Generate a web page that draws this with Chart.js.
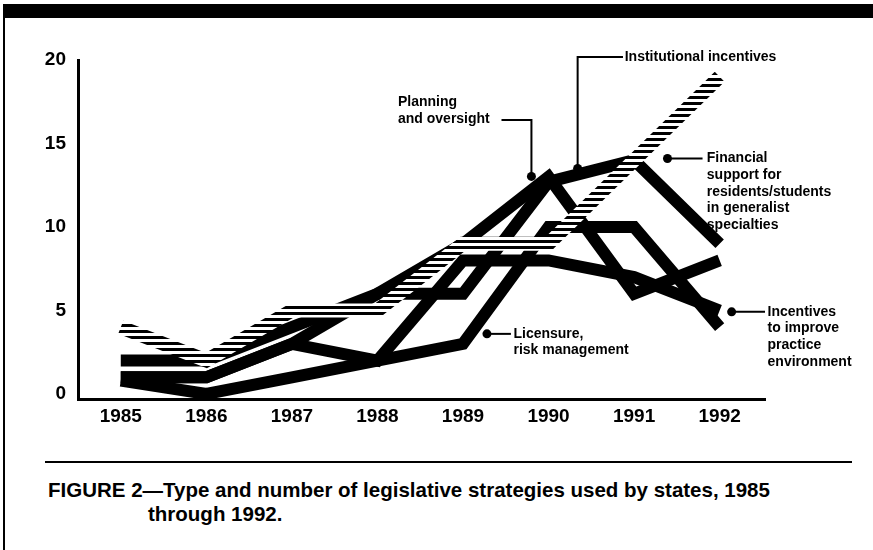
<!DOCTYPE html>
<html>
<head>
<meta charset="utf-8">
<script src="https://cdn.jsdelivr.net/npm/chart.js@4.4.0/dist/chart.umd.min.js"></script>
<style>
  html, body { margin: 0; padding: 0; background: #fff; }
  body { width: 873px; height: 550px; position: relative; overflow: hidden;
         font-family: "Liberation Sans", Arial, Helvetica, sans-serif; }
  #topbar { position: absolute; left: 3px; top: 4px; width: 870px; height: 14px; background: #000; }
  #leftline { position: absolute; left: 3px; top: 4px; width: 2px; height: 546px; background: #000; }
  #rule { position: absolute; left: 45px; top: 461px; width: 807px; height: 2px; background: #000; }
  #caption { position: absolute; left: 48px; top: 478px; font-weight: bold; font-size: 20.5px;
             line-height: 24px; color: #000; padding-left: 100px; text-indent: -100px; white-space: nowrap; }
  #wrap { position: absolute; left: 0; top: 0; width: 873px; height: 440px; }
</style>
</head>
<body>
<div id="topbar"></div>
<div id="leftline"></div>
<div id="wrap"><canvas id="c" width="873" height="440"></canvas></div>
<div id="rule"></div>
<div id="caption">FIGURE 2—Type and number of legislative strategies used by states, 1985<br>through 1992.</div>
<script>
// ---- data ----
const years = [1985, 1986, 1987, 1988, 1989, 1990, 1991, 1992];
const financialSupport        = [4, 2, 5, 5, 9, 9, 14, 19];
const planningOversight       = [2, 2, 4, 6, 9, 13, 6, 8];
const institutionalIncentives = [1, 1, 3, 6, 6, 12.7, 14, 9];
const licensureRisk           = [0.8, 0, 1, 2, 3, 10, 10, 4];
const practiceEnvironment     = [1, 1, 3, 2, 8, 8, 7, 5];
const yTicks = [0, 5, 10, 15, 20];

// annotation labels: anchor dot (data coords), leader path, text lines
const labels = [
  { lines: ["Institutional incentives"], dot: [1990.34, 13.5],
    path: [[1990.34, 13.5], [1990.34, 20.18], [1990.87, 20.18]], text: [1990.89, 20.18] },
  { lines: ["Planning", "and oversight"], dot: [1989.80, 13.03],
    path: [[1989.80, 13.03], [1989.80, 16.4], [1989.45, 16.4]], text: [1988.24, 17.45] },
  { lines: ["Financial", "support for", "residents/students", "in generalist", "specialties"], dot: [1991.39, 14.1],
    path: [[1991.39, 14.1], [1991.80, 14.1]], text: [1991.85, 14.1] },
  { lines: ["Licensure,", "risk management"], dot: [1989.28, 3.6],
    path: [[1989.28, 3.6], [1989.56, 3.6]], text: [1989.59, 3.6] },
  { lines: ["Incentives", "to improve", "practice", "environment"], dot: [1992.14, 4.92],
    path: [[1992.14, 4.92], [1992.53, 4.92]], text: [1992.56, 4.92] }
];

function pts(arr) { return years.map((yr, i) => ({ x: yr, y: arr[i] })); }

// hatched pattern (horizontal stripes)
const pc = document.createElement('canvas');
pc.width = 8; pc.height = 6;
const pctx = pc.getContext('2d');
pctx.fillStyle = '#fff'; pctx.fillRect(0, 0, 8, 6);
pctx.fillStyle = '#000'; pctx.fillRect(0, 0, 8, 3);
const ctx0 = document.getElementById('c').getContext('2d');
const hatch = ctx0.createPattern(pc, 'repeat');

const FONT = '"Liberation Sans", Arial, Helvetica, sans-serif';

const base = { pointRadius: 0, tension: 0, borderJoinStyle: 'miter', borderCapStyle: 'butt',
               fill: false, borderColor: '#000', borderWidth: 12, clip: false };

const annotationPlugin = {
  id: 'annot',
  afterDraw(chart) {
    const ctx = chart.ctx, xs = chart.scales.x, ys = chart.scales.y;
    const P = (p) => [xs.getPixelForValue(p[0]), ys.getPixelForValue(p[1])];
    ctx.save();
    ctx.strokeStyle = '#000'; ctx.fillStyle = '#000'; ctx.lineWidth = 2;
    ctx.font = 'bold 14px ' + FONT;
    ctx.textBaseline = 'middle';
    ctx.textAlign = 'left';
    for (const l of labels) {
      ctx.beginPath();
      l.path.forEach((p, i) => { const q = P(p); if (i === 0) ctx.moveTo(q[0], q[1]); else ctx.lineTo(q[0], q[1]); });
      ctx.stroke();
      const d = P(l.dot);
      ctx.beginPath(); ctx.arc(d[0], d[1], 4.5, 0, Math.PI * 2); ctx.fill();
      const t = P(l.text);
      l.lines.forEach((s, i) => ctx.fillText(s, t[0], t[1] + i * 16.7));
    }
    ctx.restore();
  }
};

new Chart(ctx0, {
  type: 'line',
  data: {
    datasets: [
      Object.assign({}, base, { label: 'Financial support', data: pts(financialSupport), borderColor: hatch, borderWidth: 14 }),
      Object.assign({}, base, { label: 'Planning and oversight', data: pts(planningOversight) }),
      Object.assign({}, base, { label: 'Institutional incentives', data: pts(institutionalIncentives) }),
      Object.assign({}, base, { label: 'Licensure, risk management', data: pts(licensureRisk) }),
      Object.assign({}, base, { label: 'Incentives to improve practice environment', data: pts(practiceEnvironment) })
    ]
  },
  options: {
    responsive: false,
    animation: false,
    layout: { padding: { left: 0, top: 60, right: 108, bottom: 0 } },
    plugins: { legend: { display: false }, tooltip: { enabled: false } },
    scales: {
      x: {
        type: 'linear', min: 1984.5, max: 1992.53,
        afterBuildTicks: (s) => { s.ticks = years.map(v => ({ value: v })); },
        afterFit: (s) => { s.height = 41; },
        grid: { display: false, drawTicks: false },
        border: { display: true, color: '#000', width: 3 },
        ticks: { color: '#000', padding: 6, font: { family: FONT, size: 19, weight: 'bold' },
                 callback: (v) => String(v), maxRotation: 0, autoSkip: false }
      },
      y: {
        type: 'linear', min: -0.3, max: 20,
        afterBuildTicks: (s) => { s.ticks = yTicks.map(v => ({ value: v })); },
        afterFit: (s) => { s.width = 78; },
        grid: { display: false, drawTicks: false },
        border: { display: true, color: '#000', width: 3 },
        ticks: { color: '#000', padding: 12, font: { family: FONT, size: 19, weight: 'bold' },
                 callback: (v) => String(v) }
      }
    }
  },
  plugins: [annotationPlugin]
});
</script>
</body>
</html>
